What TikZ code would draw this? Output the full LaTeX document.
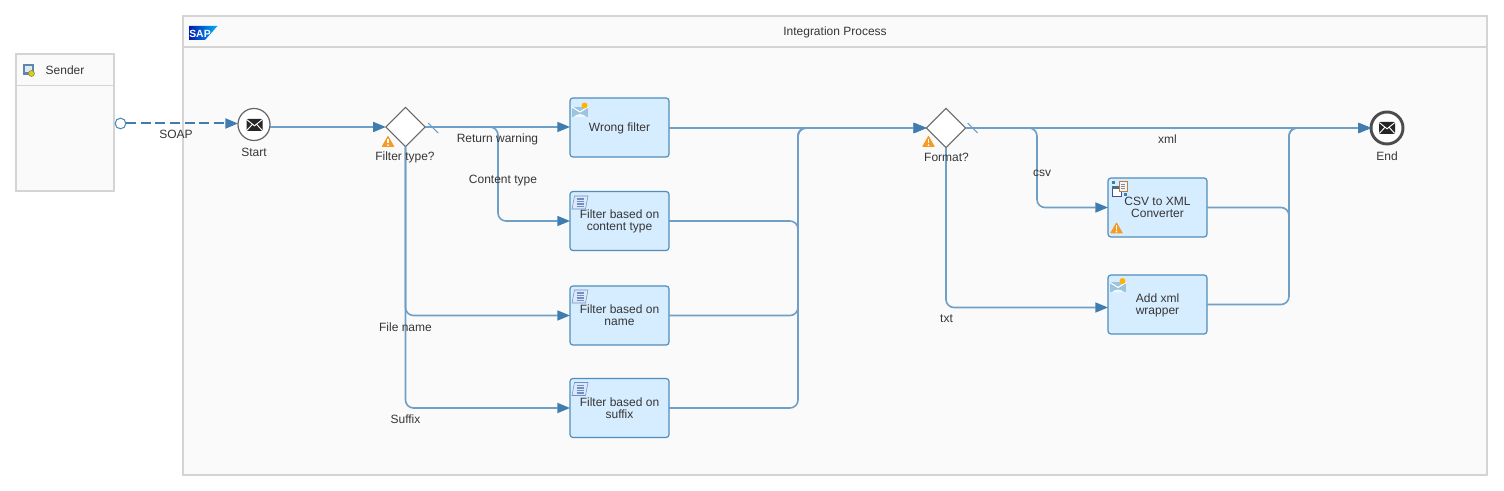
\documentclass[tikz,border=0pt]{standalone}
\usepackage{fontspec}
\setmainfont{Liberation Sans}
\usetikzlibrary{arrows.meta,shapes.geometric,calc}
\definecolor{flow}{HTML}{6F9FC6}
\definecolor{tip}{HTML}{3F7CB0}
\definecolor{taskfill}{HTML}{D6ECFF}
\definecolor{taskline}{HTML}{4F8DBB}
\definecolor{framec}{HTML}{D4D4D4}
\definecolor{panel}{HTML}{FAFAFA}
\definecolor{ink}{HTML}{363636}
\definecolor{warnc}{HTML}{F59A23}
\definecolor{scrollf}{HTML}{DDE7F5}
\definecolor{scrolll}{HTML}{6E8FC6}
\definecolor{mailc}{HTML}{9CC4DE}
\definecolor{monc}{HTML}{5F86AE}
\tikzset{
  x=0.75pt,y=-0.75pt,
  every node/.style={font=\fontsize{9}{9}\selectfont,text=ink,inner sep=0pt,outer sep=0pt},
  frame/.style={draw=framec,line width=1.1pt,fill=panel},
  taskbox/.style={draw=taskline,line width=0.9pt,fill=taskfill,rounded corners=2.2pt,
    minimum width=74.25pt,minimum height=44.25pt,align=center},
  gateway/.style={diamond,aspect=1,draw=black!60,line width=0.8pt,fill=white,minimum size=29.5pt},
  startev/.style={circle,draw=black!60,line width=0.9pt,fill=white,minimum size=24pt},
  endev/.style={circle,draw=black!70,line width=2.2pt,fill=white,minimum size=24pt},
  portc/.style={circle,draw=taskline,line width=0.8pt,fill=white,minimum size=8pt},
  flowline/.style={draw=flow,line width=1.2pt,rounded corners=6pt,-{Triangle[length=9.5pt,width=7.5pt,color=tip]}},
  msgline/.style={draw=tip,line width=1.5pt,dash pattern=on 7.5pt off 3.5pt,-{Triangle[length=9.5pt,width=7.5pt,color=tip]}},
  tick/.style={draw=flow,line width=0.8pt},
  lab/.style={anchor=center},
  warnpic/.pic={
    \fill[warnc,rounded corners=0.6pt] (-6.5,5.5)--(0,-6)--(6.5,5.5)--cycle;
    \fill[white] (-0.9,-2.5) rectangle (0.9,2);
    \fill[white] (0,3.6) circle (1);
  },
  mailpic/.pic={
    \fill[black!85,rounded corners=0.8pt] (-8,-6) rectangle (8,6);
    \draw[white,line width=0.7pt] (-7.5,-5.2)--(0,0.8)--(7.5,-5.2) (-7.5,5.2)--(-2,-0.8) (7.5,5.2)--(2,-0.8);
  },
  scrollpic/.pic={
    \fill[scrollf,draw=scrolll,line width=0.4pt] (-5.5,-6.5) -- (8,-6.5) -- (5.5,6.5) -- (-8,6.5) -- cycle;
    \foreach \yy in {-3.5,-1,1.5,4}{\draw[scrolll,line width=0.9pt] (-3.4,\yy)--(3.6,\yy);}
  },
  sunmailpic/.pic={
    \fill[mailc] (-8,-3) rectangle (8,7);
    \draw[white,line width=0.8pt] (-8,-3)--(0,2)--(8,-3);
    \fill[white!60!taskfill] (-6.5,7) to[bend left=50] (6.5,7) -- cycle;
    \fill[orange!60!yellow] (4.5,-4.5) circle (3);
  },
  convpic/.pic={
    \fill[white,draw=black!60!blue!70,line width=0.6pt] (-8,-2) rectangle (1,8);
    \fill[monc!80!black] (-8,-2) rectangle (1,1);
    \fill[white!90!orange,draw=orange!40!gray,line width=0.5pt] (-1,-7) rectangle (7,3);
    \foreach \yy in {-4,-2,0}{\draw[scrolll,line width=0.5pt] (1,\yy)--(5,\yy);}
    \fill[tip] (-8,-7) rectangle (-5,-4);
    \fill[tip] (4,5) rectangle (7,8);
  },
}
\begin{document}
\begin{tikzpicture}
\useasboundingbox (0,0) rectangle (1504,491);
\fill[white] (0,0) rectangle (1504,491);
% pools
\path[frame] (183,16) rectangle (1487,475);
\draw[framec,line width=1pt] (183,47) -- (1487,47);
\path[frame] (16,54) rectangle (114,191);
\draw[framec,line width=1pt] (16,85.5) -- (114,85.5);
% SAP logo
\shade[left color=blue!65!black!90!cyan,right color=cyan!70!blue] (189,26)--(217.5,26)--(205,40)--(189,40)--cycle;
\node[font=\bfseries\fontsize{7.8}{7.8}\selectfont,text=white] (saplogo) at (200,33.5) {SAP};
\node (pooltitle) at (835,32.5) {Integration Process};
\node[lab] (sendertitle) at (65,70) {Sender};
% sender icon
\fill[monc] (22.5,64.5) rectangle (34,75);
\fill[white!80!monc] (24.5,66.5) rectangle (32,72.5);
\fill[yellow!70!olive,draw=gray,line width=0.4pt] (31.5,73.5) circle (3);
% events and gateways
\node[startev] (start) at (254,124.5) {};
\node[endev] (stop) at (1387,128) {};
\pic at (254.5,125) {mailpic};
\pic at (1387,128) {mailpic};
\node[gateway] (filter) at (405.5,127) {};
\node[gateway] (format) at (946,128) {};
% tasks
\node[taskbox] (wrong) at (619.5,127.5) {\rule{0pt}{8pt}Wrong filter};
\node[taskbox] (content) at (619.5,221) {Filter based on\\content type};
\node[taskbox] (name) at (619.5,315.5) {Filter based on\\name};
\node[taskbox] (suffix) at (619.5,408) {Filter based on\\suffix};
\node[taskbox] (csvconv) at (1157.5,207.5) {CSV to XML\\Converter};
\node[taskbox] (wrapper) at (1157.5,304.5) {\rule{0pt}{8pt}Add xml\\wrapper};
\node[portc] (port) at (120.5,123.5) {};
% routing points
\coordinate (split1) at (498,175);
\coordinate (join1) at (798,270);
\coordinate (split2) at (1037,170);
\coordinate (join2) at (1289,220);
\coordinate (wrapin) at ($(wrapper.west)+(0,3)$);
% connectors
\draw[msgline] (port.east) -- (start.west |- port.east);
\draw[flowline] (start.east |- filter.west) -- (filter.west);
\draw[flowline] (filter.east) -- (wrong.west |- filter.east);
\draw[flowline] (filter.east) -| (split1) |- (content.west);
\draw[flowline] (filter.south) |- (name.west);
\draw[flowline] (filter.south) |- (suffix.west);
\draw[flowline] (wrong.east |- format.west) -- (format.west);
\draw[flowline] (content.east) -| (join1) |- (format.west);
\draw[flowline] (name.east) -| (join1) |- (format.west);
\draw[flowline] (suffix.east) -| (join1) |- (format.west);
\draw[flowline] (format.east) -- (stop.west);
\draw[flowline] (format.east) -| (split2) |- (csvconv.west);
\draw[flowline] (format.south) |- (wrapin);
\draw[flowline] (csvconv.east) -| (join2) |- (stop.west);
\draw[flowline] (wrapper.east) -| (join2) |- (stop.west);
\draw[tick] ($(filter.east)+(3,-4)$) -- ($(filter.east)+(13,6)$);
\draw[tick] ($(format.east)+(2,-5)$) -- ($(format.east)+(12,5)$);
% icons
\pic at (388,141.5) {warnpic};
\pic at (928.5,141.5) {warnpic};
\pic at (1116.5,228) {warnpic};
\pic at (580,110) {sunmailpic};
\pic at (580,202.5) {scrollpic};
\pic at (580,296.5) {scrollpic};
\pic at (580,389) {scrollpic};
\pic at (1120,188) {convpic};
\pic at (1118,285.5) {sunmailpic};
% labels
\node[lab] (lsoap) at (176,134) {SOAP};
\node[lab] (lstart) at (254,152.5) {Start};
\node[lab] (lend) at (1387,156) {End};
\node[lab] (lfilter) at (405,157.5) {Filter type?};
\node[lab] (lformat) at (946.5,157.5) {Format?};
\node[lab] (lret) at (497.5,139) {Return warning};
\node[lab] (lcont) at (503,180.5) {Content type};
\node[lab] (lfile) at (405.5,327) {File name};
\node[lab] (lsuf) at (405.5,419) {Suffix};
\node[lab] (lxml) at (1167.5,139) {xml};
\node[lab] (lcsv) at (1042,173) {csv};
\node[lab] (ltxt) at (946.5,319) {txt};
\end{tikzpicture}
\end{document}
